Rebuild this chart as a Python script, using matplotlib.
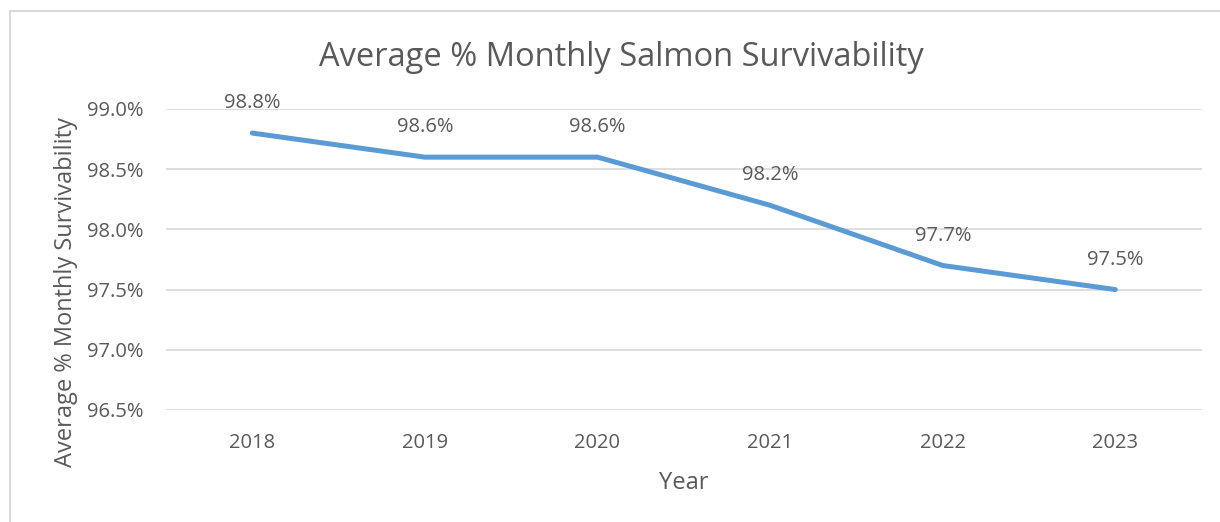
import matplotlib.pyplot as plt
from matplotlib.lines import Line2D

# data
years = ['2018', '2019', '2020', '2021', '2022', '2023']
survival = [98.8, 98.6, 98.6, 98.2, 97.7, 97.5]
yticks = [96.5, 97.0, 97.5, 98.0, 98.5, 99.0]

plt.rcParams['font.family'] = ['Open Sans', 'DejaVu Sans']
text_col = '#595959'

fig = plt.figure(figsize=(12.2, 5.22), dpi=100)
ax = fig.add_axes([0.136, 0.2146, 0.849, 0.5766])

x = range(len(years))
ax.plot(x, survival, color='#5B9BD5', lw=3.6, solid_capstyle='round',
        solid_joinstyle='round', zorder=3)
for xi, v in zip(x, survival):
    ax.annotate(f'{v:.1f}%', (xi, v), xytext=(0, 21.5), textcoords='offset points',
                ha='center', va='center', fontsize=14.5, color=text_col)

ax.set_xlim(-0.5, len(years) - 0.5)
ax.set_ylim(96.5, 99.0)
ax.set_xticks(list(x))
ax.set_xticklabels(years)
ax.set_yticks(yticks)
ax.set_yticklabels([f'{t:.1f}%' for t in yticks])
ax.tick_params(length=0, labelsize=14.5, labelcolor=text_col)
ax.tick_params(axis='x', pad=16.5)
ax.tick_params(axis='y', pad=16)
ax.grid(axis='y', color='#D9D9D9', lw=1.2)
ax.set_axisbelow(True)
for s in ax.spines.values():
    s.set_visible(False)

ax.set_xlabel('Year', fontsize=17, color=text_col, labelpad=13)
ax.set_ylabel('Average % Monthly Survivability', fontsize=17, color=text_col)
ax.yaxis.set_label_coords(-0.085, 0.392)
fig.text(0.509, 0.89, 'Average % Monthly Salmon Survivability', ha='center',
         va='center', fontsize=23.5, color=text_col)

# outer chart frame (top and left edges visible)
fig.add_artist(Line2D([10 / 1220, 1], [1 - 11 / 522, 1 - 11 / 522],
                      transform=fig.transFigure, color='#D9D9D9', lw=1.5))
fig.add_artist(Line2D([10 / 1220, 10 / 1220], [0, 1 - 11 / 522],
                      transform=fig.transFigure, color='#D9D9D9', lw=1.5))

fig.savefig('out.png', dpi=100, facecolor='white')
